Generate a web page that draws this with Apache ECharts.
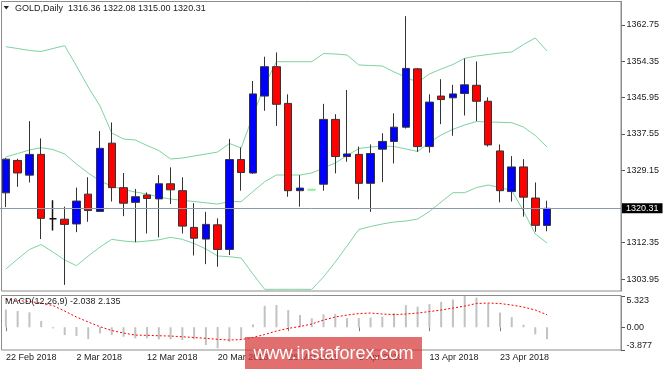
<!DOCTYPE html>
<html><head><meta charset="utf-8">
<script src="https://cdn.jsdelivr.net/npm/echarts@6/dist/echarts.min.js"></script>
<style>html,body{margin:0;padding:0;background:#fff}#c{width:665px;height:369px}</style>
</head><body><div id="c"></div>
<script>
// ---------- data ----------
const dates = ['22 Feb 2018','23 Feb 2018','26 Feb 2018','27 Feb 2018','28 Feb 2018','1 Mar 2018','2 Mar 2018','5 Mar 2018','6 Mar 2018','7 Mar 2018','8 Mar 2018','9 Mar 2018','12 Mar 2018','13 Mar 2018','14 Mar 2018','15 Mar 2018','16 Mar 2018','19 Mar 2018','20 Mar 2018','21 Mar 2018','22 Mar 2018','23 Mar 2018','26 Mar 2018','27 Mar 2018','28 Mar 2018','29 Mar 2018','30 Mar 2018','2 Apr 2018','3 Apr 2018','4 Apr 2018','5 Apr 2018','6 Apr 2018','9 Apr 2018','10 Apr 2018','11 Apr 2018','12 Apr 2018','13 Apr 2018','16 Apr 2018','17 Apr 2018','18 Apr 2018','19 Apr 2018','20 Apr 2018','23 Apr 2018','24 Apr 2018','25 Apr 2018','26 Apr 2018','27 Apr 2018'];
const emptyBars = 6; // chart shift area on the right

const openP  = [1323.9,1331.4,1328.0,1332.8,1317.9,1317.8,1316.7,1323.6,1319.6,1335.4,1325.1,1321.7,1323.4,1322.5,1326.0,1324.4,1315.9,1313.2,1316.5,1310.8,1331.6,1328.5,1346.3,1353.1,1344.6,1324.4,1324.6,1325.9,1340.9,1332.3,1332.8,1326.1,1334.0,1335.8,1339.1,1352.6,1334.6,1346.3,1345.9,1346.9,1348.8,1345.1,1333.6,1324.2,1329.9,1322.7,1316.36];
const highP  = [1332.0,1331.8,1340.5,1336.5,1322.2,1320.7,1325.1,1327.5,1338.2,1340.2,1328.5,1324.8,1324.0,1328.0,1329.8,1327.5,1321.5,1319.5,1318.0,1336.4,1334.4,1349.8,1355.4,1356.4,1346.7,1328.0,1324.6,1344.5,1342.1,1347.7,1334.6,1335.1,1337.7,1342.3,1364.8,1352.8,1346.7,1350.2,1348.9,1355.0,1354.3,1346.0,1335.1,1332.4,1331.7,1326.3,1322.08];
const lowP   = [1320.6,1325.3,1326.3,1313.2,1315.2,1302.6,1314.8,1317.2,1319.5,1321.9,1318.5,1312.5,1314.5,1313.6,1321.3,1314.5,1309.4,1307.4,1306.8,1309.5,1324.4,1328.3,1342.9,1339.4,1323.0,1320.7,1324.6,1324.4,1328.4,1331.1,1322.4,1319.5,1326.4,1330.7,1338.8,1333.4,1333.2,1339.8,1337.1,1341.8,1340.5,1334.6,1321.7,1321.9,1318.4,1314.9,1315.00];
const closeP = [1331.7,1328.5,1332.8,1318.0,1317.9,1316.6,1322.0,1319.8,1334.2,1325.1,1321.5,1323.0,1322.6,1326.0,1324.6,1316.2,1313.4,1316.6,1310.8,1331.6,1328.6,1346.8,1353.1,1344.4,1324.4,1325.0,1324.6,1340.9,1332.3,1332.9,1326.1,1333.0,1335.8,1339.1,1352.7,1334.6,1344.9,1345.5,1346.8,1348.9,1345.1,1335.0,1324.4,1329.9,1322.9,1316.38,1320.31];

const bbUpper  = [1357.73,1357.31,1356.85,1356.62,1357.31,1357.96,1353.26,1348.40,1344.00,1337.75,1336.36,1336.13,1334.86,1333.70,1331.73,1331.96,1332.43,1332.89,1333.35,1335.32,1334.28,1341.73,1348.86,1354.25,1354.25,1354.25,1354.25,1356.15,1356.04,1355.81,1353.49,1353.37,1353.26,1351.87,1350.71,1349.44,1351.41,1352.56,1353.61,1355.04,1355.57,1355.92,1356.27,1356.50,1358.24,1359.74,1356.73];
const bbMiddle = [1332.19,1333.00,1333.81,1334.35,1333.93,1332.89,1330.57,1328.49,1326.64,1325.48,1324.67,1324.09,1323.63,1322.94,1322.47,1322.17,1321.89,1321.59,1321.31,1321.89,1321.85,1324.21,1326.48,1328.03,1328.03,1328.03,1328.49,1329.65,1330.81,1332.54,1334.16,1334.51,1334.74,1334.62,1334.05,1333.47,1335.55,1337.29,1338.61,1339.60,1340.41,1340.30,1340.23,1340.13,1339.14,1337.17,1334.51];
const bbLower  = [1306.27,1308.58,1310.78,1311.94,1310.20,1308.35,1307.03,1309.28,1311.36,1313.14,1312.75,1312.52,1312.75,1313.03,1313.61,1313.14,1312.17,1310.90,1309.28,1309.12,1308.81,1305.11,1301.57,1301.57,1301.57,1301.57,1301.57,1304.42,1307.89,1311.59,1315.41,1316.11,1316.69,1317.15,1317.38,1317.84,1319.58,1321.78,1323.93,1323.93,1325.13,1325.71,1325.13,1324.44,1319.69,1314.37,1312.29];

const macdMain   = [3.0,2.76,2.54,1.06,-0.19,-1.33,-1.50,-2.01,-1.04,-1.33,-1.62,-1.89,-1.89,-2.06,-2.06,-2.18,-2.06,-3.03,-3.59,-2.47,-2.18,0.49,3.66,3.78,2.93,2.08,1.52,2.20,2.28,1.55,1.55,1.66,1.83,2.39,3.77,3.50,3.94,4.33,4.72,5.32,5.05,4.05,2.50,1.72,0.44,-1.22,-2.038];
const macdSignal = [4.80,4.55,4.38,4.12,3.70,2.76,1.74,0.89,0.09,-0.56,-0.99,-1.33,-1.38,-1.45,-1.50,-1.62,-1.75,-1.89,-2.06,-2.18,-2.10,-1.75,-1.24,-0.65,-0.19,0.12,0.55,1.23,1.74,2.08,2.33,2.42,2.25,2.16,2.25,2.42,2.67,2.93,3.27,3.61,4.04,4.12,4.04,3.78,3.44,2.93,2.135];

const priceTicks = [1303.95,1312.35,1320.75,1329.15,1337.55,1345.95,1354.35,1362.75];
const priceLabels = ['1303.95','1312.35','','1329.15','1337.55','1345.95','1354.35','1362.75'];
const macdTicks = [-3.877,0,5.323];
const macdTickLabels = ['-3.877','0.00','5.323'];
const symbolName = 'GOLD,Daily';
const macdName = 'MACD(12,26,9)';

// ---------- build ----------
const FONT = '"Liberation Sans", Arial, sans-serif';
const TXT = '#1a1a1a';
const categories = dates.concat(new Array(emptyBars).fill(''));
const last = dates.length - 1;
const dojiStyles = { 4: '#111111', 26: '#90ee90' };
const candleData = dates.map((d, i) => {
  const v = [openP[i], closeP[i], lowP[i], highP[i]];
  if (dojiStyles[i]) {
    const c = dojiStyles[i];
    return { value: v, itemStyle: { color: c, color0: c, borderColor: c, borderColor0: c, borderColorDoji: c, borderWidth: i === 26 ? 2 : 1.5 } };
  }
  return v;
});
const showIdx = (idx, val) => idx % 6 === 0 && val !== '';
const lastClose = closeP[last];
const header = symbolName + '  ' + [openP[last], highP[last], lowP[last], closeP[last]].map(v => v.toFixed(2)).join(' ');
const macdHeader = macdName + ' ' + macdMain[last].toFixed(3) + ' ' + macdSignal[last].toFixed(3);

const chart = echarts.init(document.getElementById('c'), null, { renderer: 'canvas' });
const gridLeft = -3.5, gridWidth = 627;
chart.setOption({
  animation: false,
  backgroundColor: '#ffffff',
  textStyle: { fontFamily: FONT },
  grid: [
    { left: gridLeft, width: gridWidth, top: 1.5, height: 289.5 },
    { left: gridLeft, width: gridWidth, top: 296, height: 54 }
  ],
  xAxis: [
    { gridIndex: 0, type: 'category', data: categories, boundaryGap: true,
      axisLine: { show: false }, axisTick: { show: false }, axisLabel: { show: false }, splitLine: { show: false } },
    { gridIndex: 1, type: 'category', data: categories, boundaryGap: true,
      axisLine: { show: false },
      axisTick: { show: true, alignWithLabel: true, interval: showIdx, length: 4, lineStyle: { color: '#808080' } },
      axisLabel: { interval: showIdx, align: 'left', margin: 3, fontSize: 9, color: TXT, fontFamily: FONT },
      splitLine: { show: false } }
  ],
  yAxis: [
    { gridIndex: 0, type: 'value', position: 'right', offset: -2.5, min: 1301.18, max: 1368.19, scale: true,
      axisLine: { show: true, lineStyle: { color: '#8c8c8c' } },
      axisTick: { show: true, length: 4, customValues: priceTicks, lineStyle: { color: '#555' } },
      axisLabel: { customValues: priceTicks, margin: 5.5, fontSize: 9, color: TXT, fontFamily: FONT,
        formatter: v => { const k = priceTicks.findIndex(t => Math.abs(t - v) < 1e-6); return k >= 0 ? priceLabels[k] : ''; } },
      splitLine: { show: false } },
    { gridIndex: 1, type: 'value', position: 'right', offset: -2.5, min: -3.877, max: 5.323,
      axisLine: { show: true, lineStyle: { color: '#8c8c8c' } },
      axisTick: { show: true, length: 4, customValues: macdTicks, lineStyle: { color: '#555' } },
      axisLabel: { customValues: macdTicks, margin: 5.5, fontSize: 9, color: TXT, fontFamily: FONT,
        verticalAlignMaxLabel: 'top', verticalAlignMinLabel: 'bottom',
        formatter: v => { const k = macdTicks.findIndex(t => Math.abs(t - v) < 1e-6); return k >= 0 ? macdTickLabels[k] : ''; } },
      splitLine: { show: false } }
  ],
  series: [
    { type: 'candlestick', xAxisIndex: 0, yAxisIndex: 0, data: candleData, barWidth: 8, z: 3,
      itemStyle: { color: '#0000ff', color0: '#ff0000', borderColor: '#333333', borderColor0: '#333333', borderColorDoji: '#333333', borderWidth: 1 },
      markLine: { silent: true, symbol: 'none', animation: false,
        lineStyle: { color: '#8a9aa8', width: 1, type: 'solid' },
        label: { show: true, position: 'end', distance: -1.5, formatter: () => lastClose.toFixed(2), color: '#ffffff', backgroundColor: '#000000',
          padding: [1, 4, 0, 4], fontSize: 9, fontFamily: FONT },
        data: [{ yAxis: lastClose }] } },
    { type: 'line', xAxisIndex: 0, yAxisIndex: 0, data: bbUpper, symbol: 'none', z: 2, lineStyle: { color: '#7dd3a0', width: 1 } },
    { type: 'line', xAxisIndex: 0, yAxisIndex: 0, data: bbMiddle, symbol: 'none', z: 2, lineStyle: { color: '#7dd3a0', width: 1 } },
    { type: 'line', xAxisIndex: 0, yAxisIndex: 0, data: bbLower, symbol: 'none', z: 2, lineStyle: { color: '#7dd3a0', width: 1 } },
    { type: 'bar', xAxisIndex: 1, yAxisIndex: 1, data: macdMain, barWidth: 2, itemStyle: { color: '#c2c2c2' } },
    { type: 'line', xAxisIndex: 1, yAxisIndex: 1, data: macdSignal, symbol: 'none', z: 3, lineStyle: { color: '#ff0000', width: 1, type: [2, 2] } }
  ],
  graphic: [
    { type: 'rect', z: 50, silent: true, shape: { x: 1.5, y: 1.5, width: 619.5, height: 289.5 }, style: { fill: null, stroke: '#8c8c8c', lineWidth: 1 } },
    { type: 'rect', z: 50, silent: true, shape: { x: 1.5, y: 295.5, width: 619.5, height: 54.5 }, style: { fill: null, stroke: '#8c8c8c', lineWidth: 1 } },
    { type: 'polygon', z: 60, silent: true, shape: { points: [[3.5, 6], [9, 6], [6.25, 9.5]] }, style: { fill: '#222' } },
    { type: 'text', z: 60, silent: true, x: 15, y: 8.5, style: { text: header, fill: TXT, font: '9px ' + FONT, verticalAlign: 'middle' } },
    { type: 'text', z: 60, silent: true, x: 5, y: 301.5, style: { text: macdHeader, fill: TXT, font: '9px ' + FONT, verticalAlign: 'middle' } },
    { type: 'rect', z: 70, silent: true, shape: { x: 245, y: 337, width: 177, height: 32 }, style: { fill: 'rgba(214,56,56,0.72)' } },
    { type: 'text', z: 71, silent: true, x: 333.5, y: 354, style: { text: 'www.instaforex.com', fill: '#ffffff', font: '18px ' + FONT, align: 'center', verticalAlign: 'middle' } }
  ]
});
</script></body></html>
